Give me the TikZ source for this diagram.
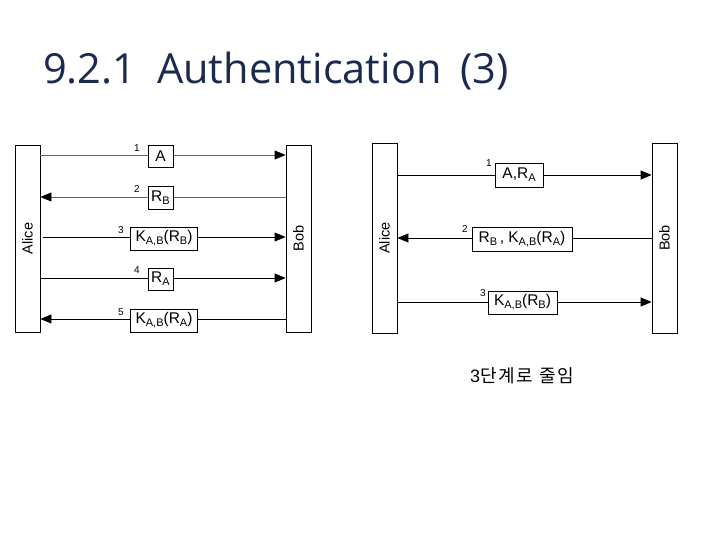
\documentclass[tikz,border=0pt]{standalone}
\usepackage{fontspec}
\setmainfont{Liberation Sans}
\newfontfamily\titlefont{Open Sans}
\newfontfamily\cjk[LetterSpace=10]{Noto Sans CJK KR}
\usetikzlibrary{arrows.meta}
\definecolor{titleblue}{HTML}{1B2A4E}
\tikzset{
  party/.style={draw=black, fill=white, line width=0.8pt},
  msgbox/.style={draw=black, fill=white, line width=0.8pt, inner sep=0pt, font=\fontsize{15.5}{15.5}\selectfont},
  msg/.style={line width=0.8pt, -{Triangle[length=11pt,width=9pt,color=black,fill=black]}},
  num/.style={font=\fontsize{10}{10}\selectfont, inner sep=0pt},
  pname/.style={rotate=90, font=\fontsize{14.5}{14.5}\selectfont}
}
\newcommand{\sbs}[1]{\raisebox{-3pt}{\fontsize{11}{11}\selectfont #1}}
\begin{document}
\begin{tikzpicture}[x=1pt,y=-1pt]
\useasboundingbox (0,0) rectangle (720,540);
% title
\node[anchor=base west, inner sep=0pt, text=titleblue, font=\titlefont\fontsize{41.5}{41.5}\selectfont] (title) at (43,84) {9.2.1\hspace{10pt} Authentication\hspace{8pt} (3)};

% ---------- left diagram ----------
\node[party, minimum width=25pt, minimum height=187pt, inner sep=0pt] (alice1) at (27.5,238.5) {};
\node[party, minimum width=25pt, minimum height=187pt, inner sep=0pt] (bob1) at (298.5,238.5) {};
\node[pname] (alicet1) at (alice1.center) {Alice};
\node[pname] (bobt1) at (bob1.center) {Bob};

\coordinate (a1) at (alice1.east |- 0,155);
\coordinate (b1) at (bob1.west |- 0,155);
\draw[msg, draw=gray!80!black] (a1) -- (b1);
\node[msgbox, minimum width=25pt, minimum height=22pt] (m1) at (160.5,156) {A};
\node[num, anchor=south east] (n1) at (140,152) {1};

\coordinate (a2) at (alice1.east |- 0,197);
\coordinate (b2) at (bob1.west |- 0,197);
\draw[msg, draw=gray!80!black] (b2) -- (a2);
\node[msgbox, minimum width=25pt, minimum height=23pt] (m2) at (160.5,197.5) {R\sbs{B}};
\node[num, anchor=south east] (n2) at (140,193) {2};

\coordinate (a3) at ([xshift=3pt]alice1.east |- 0,237);
\coordinate (b3) at (bob1.west |- 0,237);
\draw[msg] (a3) -- (b3);
\node[msgbox, minimum width=67pt, minimum height=23pt] (m3) at (164,238.5) {K\sbs{A,B}(R\sbs{B})};
\node[num, anchor=south east] (n3) at (124,234) {3};

\coordinate (a4) at (alice1.east |- 0,278);
\coordinate (b4) at (bob1.west |- 0,278);
\draw[msg] (a4) -- (b4);
\node[msgbox, minimum width=25pt, minimum height=22pt] (m4) at (160.5,279) {R\sbs{A}};
\node[num, anchor=south east] (n4) at (140,274) {4};

\coordinate (a5) at (alice1.east |- 0,319);
\coordinate (b5) at (bob1.west |- 0,319);
\draw[msg] (b5) -- (a5);
\node[msgbox, minimum width=67pt, minimum height=23pt] (m5) at (164,320.5) {K\sbs{A,B}(R\sbs{A})};
\node[num, anchor=south east] (n5) at (124,316) {5};

% ---------- right diagram ----------
\node[party, minimum width=25pt, minimum height=190pt, inner sep=0pt] (alice2) at (384.5,238) {};
\node[party, minimum width=25pt, minimum height=190pt, inner sep=0pt] (bob2) at (664.5,238) {};
\node[pname] (alicet2) at (alice2.center) {Alice};
\node[pname] (bobt2) at (bob2.center) {Bob};

\coordinate (c1) at (alice2.east |- 0,175);
\coordinate (d1) at (bob2.west |- 0,175);
\draw[msg] (c1) -- (d1);
\node[msgbox, minimum width=48pt, minimum height=24pt] (r1) at (519,175) {A,R\sbs{A}};
\node[num, anchor=south east] (rn1) at (492,167) {1};

\coordinate (c2) at (alice2.east |- 0,238);
\coordinate (d2) at (bob2.west |- 0,238);
\draw[msg] (d2) -- (c2);
\node[msgbox, minimum width=100pt, minimum height=24pt] (r2) at (522,239) {R\sbs{B}\,, K\sbs{A,B}(R\sbs{A})};
\node[num, anchor=south east] (rn2) at (468,233) {2};

\coordinate (c3) at (alice2.east |- 0,302);
\coordinate (d3) at (bob2.west |- 0,302);
\draw[msg] (c3) -- (d3);
\node[msgbox, minimum width=69pt, minimum height=23pt] (r3) at (522.5,302.5) {K\sbs{A,B}(R\sbs{B})};
\node[num, anchor=south east] (rn3) at (486,297) {3};

\node[anchor=west, inner sep=0pt, font=\fontsize{18}{18}\selectfont] (note) at (470,376) {3{\cjk 단계로 줄임}};
\end{tikzpicture}
\end{document}
